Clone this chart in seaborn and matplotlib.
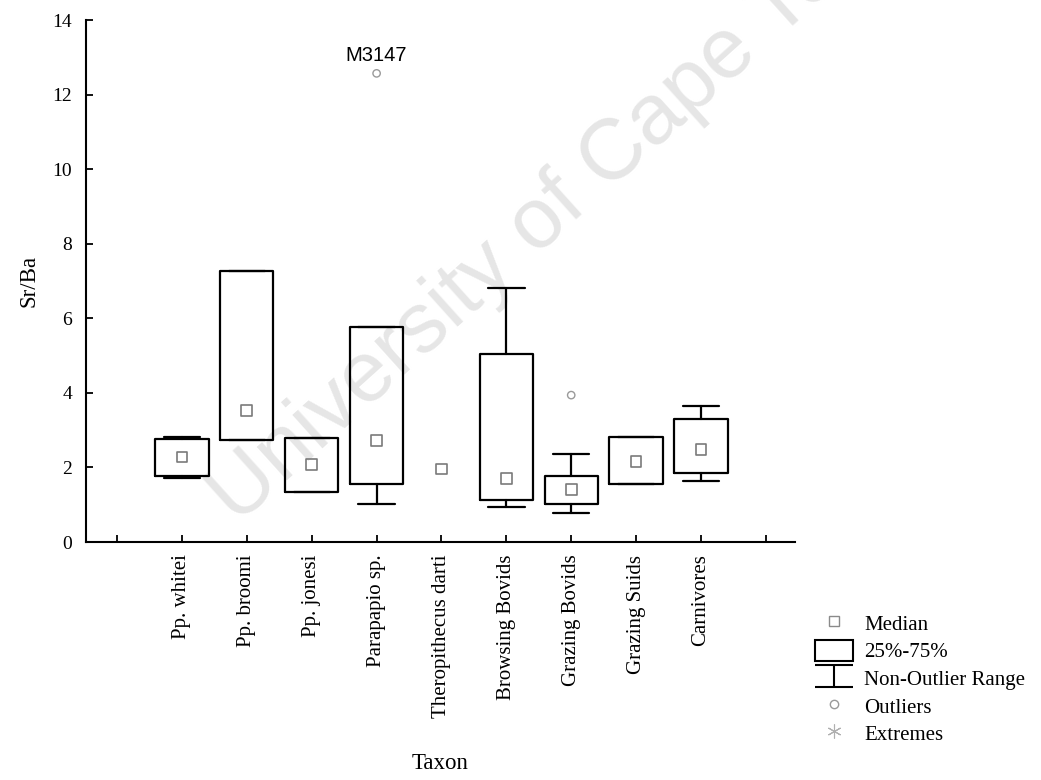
import numpy as np
import matplotlib
matplotlib.use('Agg')
import matplotlib.pyplot as plt
from matplotlib.lines import Line2D
from matplotlib.patches import Patch
from matplotlib.path import Path
import seaborn as sns

# valores (Sr/Ba por taxon)
taxa = ['Pp. whitei', 'Pp. broomi', 'Pp. jonesi', 'Parapapio sp.',
        'Theropithecus darti', 'Browsing Bovids', 'Grazing Bovids',
        'Grazing Suids', 'Carnivores']
median = [2.28, 3.53, 2.07, 2.72, 1.96, 1.71, 1.41, 2.15, 2.49]
q1 = [1.78, 2.73, 1.33, 1.56, 1.96, 1.14, 1.02, 1.55, 1.84]
q3 = [2.76, 7.26, 2.78, 5.78, 1.96, 5.03, 1.77, 2.82, 3.30]
whislo = [1.72, 2.73, 1.33, 1.02, 1.96, 0.95, 0.77, 1.55, 1.64]
whishi = [2.83, 7.26, 2.78, 5.78, 1.96, 6.82, 2.36, 2.82, 3.66]

outlier_taxa = ['Parapapio sp.', 'Grazing Bovids']
outlier_vals = [12.57, 3.94]
outlier_names = ['M3147', '']

sns.set_style('ticks')
plt.rcParams['font.family'] = ['Liberation Serif', 'DejaVu Serif']
plt.rcParams['text.color'] = 'black'
plt.rcParams['axes.labelcolor'] = 'black'
plt.rcParams['xtick.color'] = 'black'
plt.rcParams['ytick.color'] = 'black'

fig = plt.figure(figsize=(10.41, 7.8), dpi=100)
ax = fig.add_axes([0.0826, 0.3051, 0.6811, 0.6692])

pos = np.arange(1, len(taxa) + 1)

# marca de agua
ax.text(0.228, 0.326, 'University of Cape Town', transform=fig.transFigure,
        rotation=42, rotation_mode='anchor', ha='left', va='baseline',
        fontsize=62, color='#e6e6e6', family='Liberation Sans',
        zorder=0, clip_on=False)

stats = []
bpos = []
for i in range(len(taxa)):
    if q3[i] > q1[i]:
        stats.append(dict(med=median[i], q1=q1[i], q3=q3[i],
                          whislo=whislo[i], whishi=whishi[i], fliers=[]))
        bpos.append(pos[i])

ax.bxp(stats, positions=bpos, widths=0.82, capwidths=0.56, showfliers=False,
       boxprops=dict(color='black', linewidth=1.6),
       whiskerprops=dict(color='black', linewidth=1.6),
       capprops=dict(color='black', linewidth=1.6),
       medianprops=dict(linestyle='none'), manage_ticks=False)

sns.scatterplot(x=pos, y=median, marker='s', s=60, facecolor='none',
                edgecolor='#7a7a7a', linewidth=1.2, ax=ax, zorder=4)

opos = [pos[taxa.index(t)] for t in outlier_taxa]
sns.scatterplot(x=opos, y=outlier_vals, marker='o', s=28, facecolor='none',
                edgecolor='#9a9a9a', linewidth=1.0, ax=ax, zorder=4)
for xp, yv, name in zip(opos, outlier_vals, outlier_names):
    if name:
        ax.text(xp, yv + 0.22, name, ha='center', va='bottom', fontsize=14.5,
                family='Liberation Sans', color='black')

ax.set_xlim(-0.48, 10.45)
ax.set_ylim(0, 14)
ax.set_xticks(np.arange(0, 11))
ax.set_xticklabels([''] + taxa + [''], rotation=90, va='top', fontsize=15)
ax.set_yticks(np.arange(0, 15, 2))
ax.tick_params(axis='y', labelsize=14, pad=10)
ax.tick_params(axis='x', pad=9)
ax.tick_params(direction='in', length=5, width=1.3, color='black')
ax.set_xlabel('Taxon', fontsize=16.5)
ax.set_ylabel('Sr/Ba', fontsize=16.5)
ax.xaxis.set_label_coords(0.5, -0.405)
ax.yaxis.set_label_coords(-0.066, 0.5)
for s in ['top', 'right']:
    ax.spines[s].set_visible(False)
for s in ['left', 'bottom']:
    ax.spines[s].set_linewidth(1.5)
    ax.spines[s].set_color('black')

# leyenda estilo Statistica
ibeam = Path([(-1, 0.58), (1, 0.58), (0, 0.58), (0, -0.58), (-1, -0.58), (1, -0.58)],
             [Path.MOVETO, Path.LINETO, Path.MOVETO, Path.LINETO, Path.MOVETO, Path.LINETO])
handles = [
    Line2D([], [], marker='s', ls='none', mfc='none', mec='#8a8a8a', ms=7, mew=1.0),
    Patch(facecolor='white', edgecolor='black', linewidth=1.5),
    Line2D([], [], marker=ibeam, ls='none', mec='black', ms=27, mew=1.5),
    Line2D([], [], marker='o', ls='none', mfc='none', mec='#9a9a9a', ms=6, mew=1.0),
    Line2D([], [], marker=(6, 2, 0), ls='none', mec='#b0b0b0', ms=10, mew=0.8),
]
labels = ['Median', '25%-75%', 'Non-Outlier Range', 'Outliers', 'Extremes']
fig.legend(handles, labels, loc='upper left', bbox_to_anchor=(0.783, 0.215),
           bbox_transform=fig.transFigure, frameon=False, fontsize=15,
           handlelength=1.83, handleheight=1.15, labelspacing=0.25,
           handletextpad=0.53, borderpad=0, borderaxespad=0)

fig.savefig('out.png', dpi=100)
